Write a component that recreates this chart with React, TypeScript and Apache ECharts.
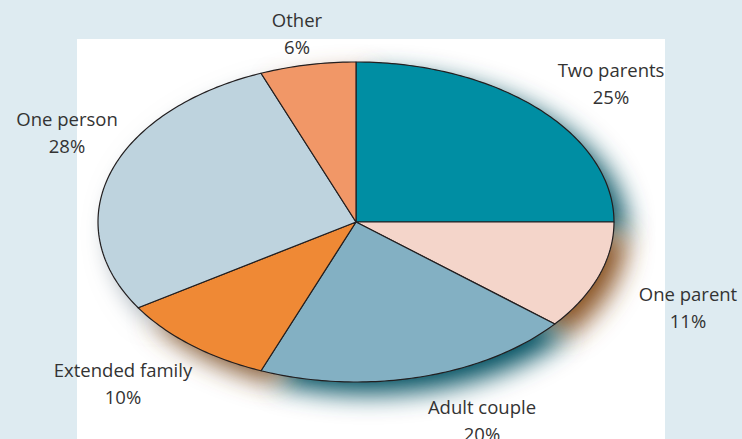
import React, { useEffect, useRef } from "react";
import * as echarts from "echarts";

const categories = ["Two parents", "One parent", "Adult couple", "Extended family", "One person", "Other"];
const shares = [25, 11, 20, 10, 28, 6];
const sliceColors = ["#008ea3", "#f4d5ca", "#83b0c3", "#ef8935", "#bed3de", "#f19767"];
const shadowColors = ["#06505f", "#8a5526", "#064f60", "#80522c", "#8a98a3", "#a07050"];
// label anchor points (centre of two-line label), px
const labelAnchors = [
  [611, 83],
  [688, 307],
  [482, 420],
  [123, 383],
  [67, 132],
  [297, 33],
];

const CX = 356;
const CY = 222;
const RX = 258;
const RY = 160;

const total = shares.reduce((a, b) => a + b, 0);
const starts: number[] = [];
{
  let acc = 0;
  for (const s of shares) {
    starts.push(acc);
    acc += s;
  }
}

function slicePoints(idx: number, value: number) {
  const a0 = -Math.PI / 2 + (starts[idx] / total) * Math.PI * 2;
  const a1 = a0 + (value / total) * Math.PI * 2;
  const n = Math.max(4, Math.ceil(((a1 - a0) / (Math.PI * 2)) * 360));
  const pts: number[][] = [[CX, CY]];
  for (let i = 0; i <= n; i++) {
    const a = a0 + ((a1 - a0) * i) / n;
    pts.push([CX + RX * Math.cos(a), CY + RY * Math.sin(a)]);
  }
  return pts;
}

export default function App() {
  const ref = useRef<HTMLDivElement>(null);
  useEffect(() => {
    document.body.style.margin = "0";
    const chart = echarts.init(ref.current!, null, { renderer: "svg" });
    const data = shares.map((v, i) => ({ name: categories[i], value: v }));
    chart.setOption({
      animation: false,
      backgroundColor: "#deebf1",
      graphic: [
        {
          type: "rect",
          shape: { x: 77, y: 39, width: 588, height: 400 },
          style: { fill: "#ffffff" },
          z: -10,
          silent: true,
        },
      ],
      series: [
        {
          type: "custom",
          coordinateSystem: "none",
          z: 1,
          silent: true,
          data,
          renderItem: (params: any, api: any) => {
            const idx = params.dataIndex;
            return {
              type: "polygon",
              shape: { points: slicePoints(idx, api.value(0)) },
              style: {
                fill: shadowColors[idx],
                shadowColor: shadowColors[idx],
                shadowBlur: 26,
                shadowOffsetX: 13,
                shadowOffsetY: 12,
              },
            };
          },
        },
        {
          type: "custom",
          coordinateSystem: "none",
          z: 2,
          silent: true,
          data,
          renderItem: (params: any, api: any) => {
            const idx = params.dataIndex;
            const v = api.value(0);
            return {
              type: "group",
              children: [
                {
                  type: "polygon",
                  shape: { points: slicePoints(idx, v) },
                  style: { fill: sliceColors[idx], stroke: "#231f20", lineWidth: 1.2, lineJoin: "round" },
                },
                {
                  type: "text",
                  x: labelAnchors[idx][0],
                  y: labelAnchors[idx][1],
                  style: {
                    text: categories[idx] + "\n" + v + "%",
                    align: "center",
                    verticalAlign: "middle",
                    fontFamily: "Open Sans",
                    fontSize: 18.5,
                    lineHeight: 27,
                    fill: "#333333",
                  },
                },
              ],
            };
          },
        },
      ],
    });
    return () => chart.dispose();
  }, []);
  return <div ref={ref} style={{ position: "absolute", left: 0, top: 0, width: 742, height: 439 }} />;
}
